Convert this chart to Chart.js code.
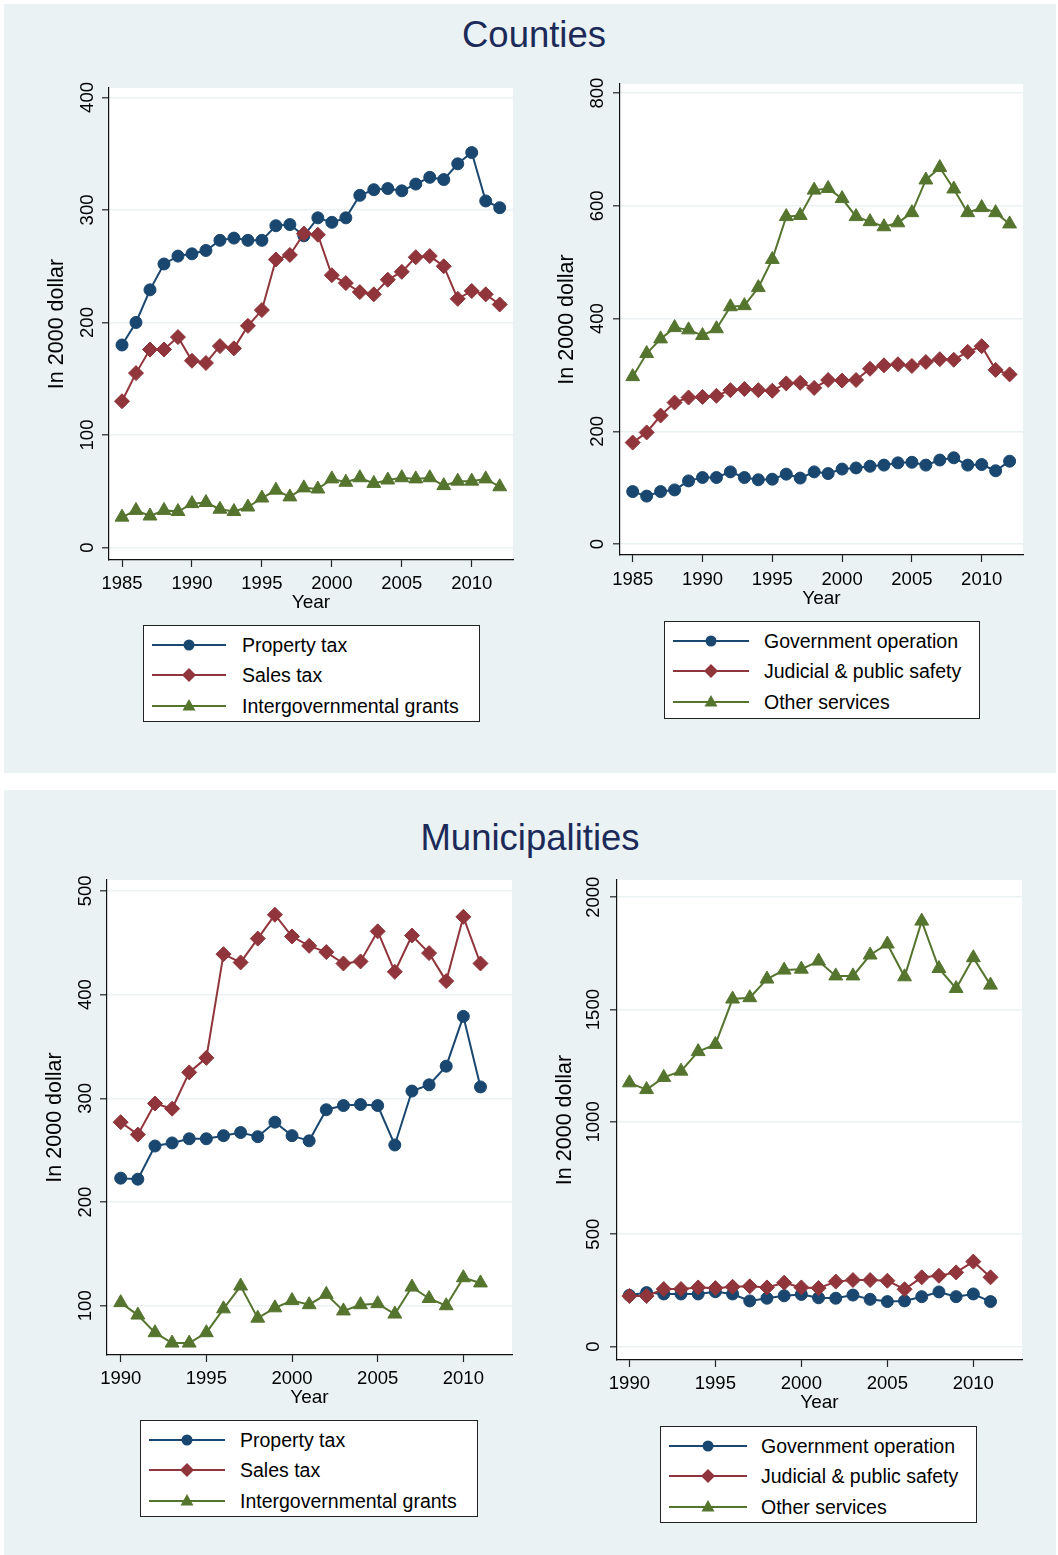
<!DOCTYPE html>
<html>
<head>
<meta charset="utf-8">
<script src="https://cdn.jsdelivr.net/npm/chart.js@4.4.1/dist/chart.umd.min.js"></script>
<style>
  html, body { margin:0; padding:0; background:#ffffff; }
  body { width:1058px; height:1555px; position:relative; overflow:hidden; font-family:'Liberation Sans', Arial, Helvetica, sans-serif; }
  .panel { position:absolute; left:4px; width:1052px; background:#EAF2F3; }
  .ptitle { position:absolute; width:1052px; text-align:center; font-size:36.5px; color:#1c2a59; line-height:40px; }
  canvas { position:absolute; }
  .legend { position:absolute; background:#ffffff; border:1px solid #222; box-sizing:border-box; }
  .legend .txt { position:absolute; font-size:19.5px; line-height:22px; color:#000; white-space:nowrap; }
  .legend svg { position:absolute; }
</style>
</head>
<body>
<div class="panel" style="top:4px;height:769px;"></div>
<div class="panel" style="top:790px;height:765px;"></div>
<div class="ptitle" style="left:8px;top:15px;">Counties</div>
<div class="ptitle" style="left:4px;top:818px;">Municipalities</div>
<canvas id="c1"></canvas>
<canvas id="c2"></canvas>
<canvas id="c3"></canvas>
<canvas id="c4"></canvas>
<script>
// ---------------- DATA ----------------
const countyYears = [1985,1986,1987,1988,1989,1990,1991,1992,1993,1994,1995,1996,1997,1998,1999,2000,2001,2002,2003,2004,2005,2006,2007,2008,2009,2010,2011,2012];
const countyPropertyTax = [180,200,229,252,259,261,264,273,275,273,273,286,287,277,293,289,293,313,318,319,317,323,329,327,341,351,308,302];
const countySalesTax = [130,155,176,176,187,166,164,179,177,197,211,256,260,279,278,242,235,227,225,238,245,258,259,250,221,228,225,216];
const countyIntergovGrants = [27,33,28,33,32,39,40,34,32,36,44,51,45,53,52,61,58,62,57,60,62,61,62,55,59,59,61,54];
const countyGovOperation = [93,85,93,96,112,118,118,128,118,114,115,124,117,128,125,133,135,138,140,144,145,140,149,153,140,141,130,147];
const countyJudicial = [180,198,228,251,260,261,263,273,275,273,272,285,286,277,291,290,291,311,317,319,316,323,328,327,341,351,309,301];
const countyOtherServices = [297,338,364,384,380,370,382,421,423,455,505,581,583,628,631,613,581,572,563,570,588,646,668,630,588,597,588,568];

const muniYears = [1990,1991,1992,1993,1994,1995,1996,1997,1998,1999,2000,2001,2002,2003,2004,2005,2006,2007,2008,2009,2010,2011];
const muniPropertyTax = [223,222,254,257,261,261,264,267,263,277,264,259,289,293,294,293,255,307,313,331,379,311];
const muniSalesTax = [277,265,295,290,325,339,439,431,454,477,456,447,441,430,432,461,422,457,440,413,475,430];
const muniIntergovGrants = [103,91,74,64,64,74,97,119,88,98,105,101,111,95,101,102,92,118,107,100,127,122];
const muniGovOperation = [228,240,234,234,234,244,234,203,215,226,232,217,215,229,210,200,203,222,243,222,234,200];
const muniJudicial = [225,225,256,256,263,260,266,268,263,284,263,260,289,296,296,293,255,308,315,330,378,308];
const muniOtherServices = [1174,1144,1198,1226,1313,1345,1547,1553,1636,1676,1680,1716,1650,1650,1743,1792,1646,1894,1683,1594,1731,1609];

const countyXTicks = [1985,1990,1995,2000,2005,2010];
const muniXTicks = [1990,1995,2000,2005,2010];
const countyRevYTicks = [0,100,200,300,400];
const countyExpYTicks = [0,200,400,600,800];
const muniRevYTicks = [100,200,300,400,500];
const muniExpYTicks = [0,500,1000,1500,2000];

const revenueLabels = ['Property tax','Sales tax','Intergovernmental grants'];
const expenditureLabels = ['Government operation','Judicial & public safety','Other services'];
const xTitle = 'Year';
const yTitle = 'In 2000 dollar';

// ---------------- STYLE ----------------
const NAVY = '#1A476F', MAROON = '#90353B', GREEN = '#55752F';
const styles = [
  {color:NAVY, point:'circle', radius:6, order:3},
  {color:MAROON, point:'rectRot', radius:7.5, order:2},
  {color:GREEN, point:'triangle', radius:8, order:1}
];
const FONT = "'Liberation Sans', Arial, Helvetica, sans-serif";
Chart.defaults.font.family = FONT;

const plotBg = {
  id:'plotBg',
  beforeDraw(chart){
    const a = chart.chartArea, ctx = chart.ctx;
    ctx.save(); ctx.fillStyle = '#ffffff';
    ctx.fillRect(a.left, a.top, a.right - a.left, a.bottom - a.top);
    ctx.restore();
  }
};

function makeChart(id, g) {
  const cv = document.getElementById(id);
  const W = g.R - g.L + 85, H = g.B - g.T + 80;
  cv.width = W; cv.height = H;
  cv.style.left = (g.L - 70) + 'px'; cv.style.top = (g.T - 20) + 'px';
  cv.style.width = W + 'px'; cv.style.height = H + 'px';
  const datasets = g.series.map((vals, i) => ({
    label: g.labels[i],
    data: g.years.map((yr, k) => ({x: yr, y: vals[k]})),
    borderColor: styles[i].color,
    backgroundColor: styles[i].color,
    pointBackgroundColor: styles[i].color,
    pointBorderColor: styles[i].color,
    pointBorderWidth: 1,
    pointStyle: styles[i].point,
    pointRadius: styles[i].radius,
    borderWidth: 2,
    tension: 0,
    order: styles[i].order
  }));
  return new Chart(cv, {
    type: 'line',
    data: {datasets},
    plugins: [plotBg],
    options: {
      responsive: false, animation: false, devicePixelRatio: 1,
      layout: {padding: {left:0, top:20, right:15, bottom:0}},
      plugins: {legend: {display:false}, tooltip: {enabled:false}},
      scales: {
        x: {
          type: 'linear', position: 'bottom', min: g.xMin, max: g.xMax,
          afterBuildTicks: s => { s.ticks = g.xTicks.map(v => ({value:v})); },
          afterFit: s => { s.height = 60; },
          grid: {drawOnChartArea:false, drawTicks:true, tickLength:7, tickColor:'#222', tickWidth:1.2},
          border: {display:true, color:'#111', width:1.2},
          ticks: {color:'#000', font:{size:18.5}, padding:g.xTickPad, autoSkip:false, maxRotation:0, minRotation:0, callback: v => String(v)},
          title: {display:true, text:xTitle, color:'#000', font:{size:19}, padding:{top:0, bottom:g.xTitlePad}}
        },
        y: {
          type: 'linear', position: 'left', min: g.yMin, max: g.yMax,
          afterBuildTicks: s => { s.ticks = g.yTicks.map(v => ({value:v})); },
          afterFit: s => { s.width = 70; },
          grid: {color:'#EAF2F3', lineWidth:1.6, drawTicks:true, tickLength:7, tickColor:'#222', tickWidth:1.2},
          border: {display:true, color:'#111', width:1.2},
          ticks: {color:'#000', font:{size:18.5}, padding:g.yTickPad, minRotation:90, maxRotation:90, crossAlign:'center', callback: v => String(v)},
          title: {display:true, text:yTitle, color:'#000', font:{size:21.5}, padding:{top:g.yTitlePad, bottom:0}}
        }
      }
    }
  });
}

makeChart('c1', {L:109, R:513, T:88, B:560, xMin:1984.07, xMax:2012.95, yMin:-11.1, yMax:408.4,
  xTicks:countyXTicks, yTicks:countyRevYTicks, years:countyYears,
  series:[countyPropertyTax, countySalesTax, countyIntergovGrants], labels:revenueLabels,
  xTickPad:6, xTitlePad:6, yTickPad:-1.4, yTitlePad:5});
makeChart('c2', {L:620, R:1023, T:84, B:555, xMin:1984.09, xMax:2012.96, yMin:-19.5, yMax:816.3,
  xTicks:countyXTicks, yTicks:countyExpYTicks, years:countyYears,
  series:[countyGovOperation, countyJudicial, countyOtherServices], labels:expenditureLabels,
  xTickPad:7, xTitlePad:5, yTickPad:-0.4, yTitlePad:4});
makeChart('c3', {L:107, R:512, T:880, B:1355, xMin:1989.2, xMax:2012.84, yMin:52.5, yMax:510.5,
  xTicks:muniXTicks, yTicks:muniRevYTicks, years:muniYears,
  series:[muniPropertyTax, muniSalesTax, muniIntergovGrants], labels:revenueLabels,
  xTickPad:6, xTitlePad:6, yTickPad:-1.4, yTitlePad:5});
makeChart('c4', {L:617, R:1022, T:880, B:1360, xMin:1989.28, xMax:2012.83, yMin:-60, yMax:2077,
  xTicks:muniXTicks, yTicks:muniExpYTicks, years:muniYears,
  series:[muniGovOperation, muniJudicial, muniOtherServices], labels:expenditureLabels,
  xTickPad:6, xTitlePad:6, yTickPad:-4.6, yTitlePad:5});

// ---------------- LEGENDS ----------------
function markerSvg(style, cx, cy) {
  const c = style.color;
  if (style.point === 'circle') return `<circle cx="${cx}" cy="${cy}" r="5.5" fill="${c}"/>`;
  if (style.point === 'rectRot') return `<polygon points="${cx-7},${cy} ${cx},${cy-7} ${cx+7},${cy} ${cx},${cy+7}" fill="${c}"/>`;
  return `<polygon points="${cx},${cy-7} ${cx+6.5},${cy+4.5} ${cx-6.5},${cy+4.5}" fill="${c}"/>`;
}
function makeLegend(labels, box) {
  const d = document.createElement('div');
  d.className = 'legend';
  d.style.left = box.left + 'px'; d.style.top = box.top + 'px';
  d.style.width = box.w + 'px'; d.style.height = box.h + 'px';
  const rows = [20, 50, 81];
  let html = '';
  labels.forEach((lab, i) => {
    const y = rows[i] - 1;
    html += `<svg width="92" height="20" style="left:4px;top:${y-10}px">` +
      `<line x1="4" y1="10" x2="${4 + box.lineLen}" y2="10" stroke="${styles[i].color}" stroke-width="2"/>` +
      markerSvg(styles[i], 4 + box.lineLen / 2, 10) + `</svg>`;
    html += `<div class="txt" style="left:${box.textX}px;top:${y-11}px">${lab.replace('&','&amp;')}</div>`;
  });
  d.innerHTML = html;
  document.body.appendChild(d);
}
makeLegend(revenueLabels, {left:143, top:625, w:337, h:97, lineLen:74, textX:98});
makeLegend(expenditureLabels, {left:664, top:621, w:316, h:98, lineLen:76, textX:99});
makeLegend(revenueLabels, {left:140, top:1420, w:338, h:97, lineLen:76, textX:99});
makeLegend(expenditureLabels, {left:660, top:1426, w:317, h:97, lineLen:78, textX:100});
</script>
</body>
</html>
